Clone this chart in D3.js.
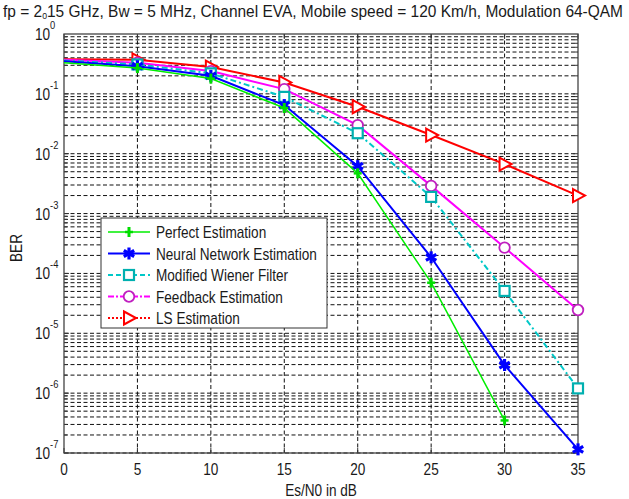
<!DOCTYPE html>
<html>
<head>
<meta charset="utf-8">
<script src="https://cdn.jsdelivr.net/npm/d3@7"></script>
<style>
body{margin:0;background:#fff}
text{font-family:"Liberation Sans",Arial,sans-serif;fill:#1a1a1a}
</style>
</head>
<body>
<div id="chart"></div>
<script>
var snr = [0,5,10,15,20,25,30,35]
var perfect = [0.33,0.27,0.18,0.058,0.0047,7.0e-5,3.5e-7]
var neural = [0.35,0.29,0.20,0.065,0.0062,1.86e-4,2.95e-6,1.15e-7]
var wiener = [0.36,0.31,0.22,0.089,0.022,1.9e-3,5.1e-5,1.2e-6]
var feedback = [0.37,0.33,0.24,0.12,0.030,2.9e-3,2.7e-4,2.45e-5]
var lsEst = [0.38,0.37,0.28,0.155,0.061,0.0205,6.7e-3,2.0e-3]
var names = ["Perfect Estimation","Neural Network Estimation","Modified Wiener Filter","Feedback Estimation","LS Estimation"]
var xTicks = [0,5,10,15,20,25,30,35]
var yExps = [0,-1,-2,-3,-4,-5,-6,-7]

var w = 629, h = 499
var pLeft = 64, pRight = 578, pTop = 34, pBottom = 453
var sx = 0.85

var svg = d3.select("#chart").append("svg").attr("width",w).attr("height",h)

var x = d3.scaleLinear().domain([0,35]).range([pLeft,pRight])
var y = d3.scaleLog().domain([1e-7,1]).range([pBottom,pTop])

// text squeezed horizontally like the original font
function label(g,px,py,str,size,anchor){
	return g.append("text")
	.attr("transform","translate("+px+","+py+") scale("+sx+",1)")
	.attr("text-anchor",anchor||"start")
	.style("font-size",size+"px")
	.text(str)
}

// grid
var grid = svg.append("g").attr("stroke","#111").attr("stroke-width",1).attr("stroke-dasharray","4,2.5")
var minor = []
for(var e=-7;e<0;e++){
	for(var m=1;m<10;m++){ minor.push(m*Math.pow(10,e)) }
}
grid.selectAll(".hg").data(minor).enter().append("line")
.attr("x1",pLeft).attr("x2",pRight)
.attr("y1",function(d){return y(d)}).attr("y2",function(d){return y(d)})
grid.selectAll(".vg").data(xTicks.slice(1,-1)).enter().append("line")
.attr("y1",pTop).attr("y2",pBottom)
.attr("x1",function(d){return x(d)}).attr("x2",function(d){return x(d)})

// ticks
var ticks = svg.append("g").attr("stroke","#333").attr("stroke-width",1)
xTicks.forEach(function(t){
	ticks.append("line").attr("x1",x(t)).attr("x2",x(t)).attr("y1",pBottom).attr("y2",pBottom-5)
	ticks.append("line").attr("x1",x(t)).attr("x2",x(t)).attr("y1",pTop).attr("y2",pTop+5)
})
minor.forEach(function(v,i){
	var len = (i%9==0)?5:3
	ticks.append("line").attr("x1",pLeft).attr("x2",pLeft+len).attr("y1",y(v)).attr("y2",y(v))
	ticks.append("line").attr("x1",pRight).attr("x2",pRight-len).attr("y1",y(v)).attr("y2",y(v))
})

svg.append("rect").attr("x",pLeft).attr("y",pTop).attr("width",pRight-pLeft).attr("height",pBottom-pTop)
.attr("fill","none").attr("stroke","#444").attr("stroke-width",1.3)

// tick labels
xTicks.forEach(function(t){ label(svg,x(t),475,t,16,"middle") })
yExps.forEach(function(p){
	var t = label(svg,35,y(Math.pow(10,p))+6,"",16,"start")
	t.append("tspan").text("10")
	t.append("tspan").attr("dy",-11).style("font-size","11px").text(p)
})

label(svg,321,496,"Es/N0 in dB",16,"middle")
svg.append("text").attr("transform","translate(22,248) rotate(-90) scale("+sx+",1)")
.attr("text-anchor","middle").style("font-size","16px").text("BER")

var title = svg.append("text").attr("x",3).attr("y",17).style("font-size","16px")
.attr("textLength",620).attr("lengthAdjust","spacingAndGlyphs")
title.append("tspan").text("fp = 2")
title.append("tspan").attr("dy",2).style("font-size","9px").text("0")
title.append("tspan").attr("dy",-2).text("15 GHz, Bw = 5 MHz, Channel EVA, Mobile speed = 120 Km/h, Modulation 64-QAM")

// series
var series = [
	{vals:lsEst,color:"#ff0000",mk:"#ff0000",width:2,dash:null,legDash:"2,2",marker:"tri"},
	{vals:feedback,color:"#ff00ff",mk:"#c020c0",width:2,dash:null,legDash:"6,2,2,2",marker:"circle"},
	{vals:wiener,color:"#00c8c8",mk:"#00b0b0",width:2,dash:"6,3,2,3",legDash:"5,3",marker:"square"},
	{vals:neural,color:"#0000ff",mk:"#0000ff",width:2,dash:null,legDash:null,marker:"star"},
	{vals:perfect,color:"#00ee00",mk:"#00dd00",width:1.5,dash:null,legDash:null,marker:"plus"}
]
var legendOrder = [4,3,2,1,0]

var line = d3.line().x(function(d){return x(d[0])}).y(function(d){return y(d[1])})

function drawMarker(g,s,px,py){
	if(s.marker=="tri"){
		g.append("path").attr("d","M"+(px-5)+","+(py-6.5)+"L"+(px+7)+","+py+"L"+(px-5)+","+(py+6.5)+"Z")
		.attr("fill","#fff").attr("stroke",s.mk).attr("stroke-width",2)
	}else if(s.marker=="circle"){
		g.append("circle").attr("cx",px).attr("cy",py).attr("r",5.3)
		.attr("fill","#fff").attr("stroke",s.mk).attr("stroke-width",1.8)
	}else if(s.marker=="square"){
		g.append("rect").attr("x",px-5).attr("y",py-5).attr("width",10).attr("height",10)
		.attr("fill","#fff").attr("stroke",s.mk).attr("stroke-width",2.2)
	}else if(s.marker=="star"){
		[90,30,150].forEach(function(a){
			var r = a*Math.PI/180
			g.append("line").attr("x1",px-6*Math.cos(r)).attr("y1",py-6*Math.sin(r))
			.attr("x2",px+6*Math.cos(r)).attr("y2",py+6*Math.sin(r))
			.attr("stroke",s.mk).attr("stroke-width",3.2)
		})
	}else{
		g.append("line").attr("x1",px).attr("x2",px).attr("y1",py-5).attr("y2",py+5)
		.attr("stroke",s.mk).attr("stroke-width",3)
		g.append("line").attr("x1",px-4).attr("x2",px+4).attr("y1",py).attr("y2",py)
		.attr("stroke",s.mk).attr("stroke-width",2.5)
	}
}

series.forEach(function(s){
	var pts = s.vals.map(function(v,i){return [snr[i],v]})
	var g = svg.append("g")
	g.append("path").attr("d",line(pts)).attr("fill","none")
	.attr("stroke",s.color).attr("stroke-width",s.width)
	.attr("stroke-dasharray",s.dash)
	pts.forEach(function(p){
		if(p[0]>0) drawMarker(g,s,x(p[0]),y(p[1]))
	})
})

// legend
var leg = svg.append("g")
leg.append("rect").attr("x",101).attr("y",218).attr("width",226).attr("height",110)
.attr("fill","#fff").attr("stroke","#333").attr("stroke-width",1)
legendOrder.forEach(function(si,i){
	var s = series[si]
	var ly = 232+i*21.5
	leg.append("line").attr("x1",108).attr("x2",150).attr("y1",ly).attr("y2",ly)
	.attr("stroke",s.color).attr("stroke-width",s.width).attr("stroke-dasharray",s.legDash)
	drawMarker(leg,s,129,ly)
	label(leg,156,ly+6,names[i],16,"start")
})
</script>
</body>
</html>
